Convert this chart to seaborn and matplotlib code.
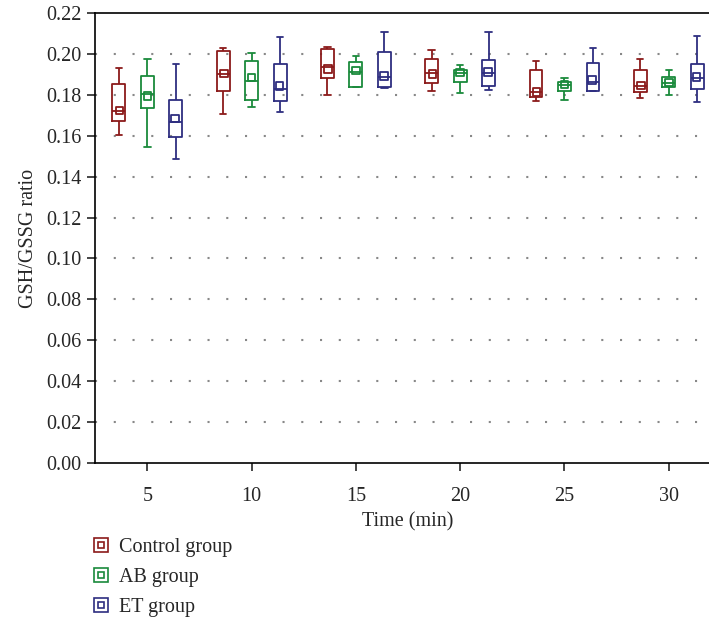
import numpy as np
import pandas as pd
import matplotlib
matplotlib.use('Agg')
import matplotlib.pyplot as plt
import seaborn as sns
from matplotlib.lines import Line2D
from matplotlib.legend_handler import HandlerTuple

# time points and groups
times = [5, 10, 15, 20, 25, 30]
groups = ['Control group', 'AB group', 'ET group']
colors = ['#8b1a1a', '#1a8a3c', '#2e2e80']

# five-number summaries: min, q1, median, q3, max
control_stats = [
    [0.1605, 0.1670, 0.1723, 0.1852, 0.1933],
    [0.1707, 0.1818, 0.1904, 0.2016, 0.2029],
    [0.1797, 0.1883, 0.1935, 0.2023, 0.2036],
    [0.1821, 0.1859, 0.1905, 0.1977, 0.2020],
    [0.1770, 0.1787, 0.1815, 0.1920, 0.1967],
    [0.1785, 0.1815, 0.1845, 0.1920, 0.1977],
]
ab_stats = [
    [0.1543, 0.1735, 0.1805, 0.1891, 0.1974],
    [0.1741, 0.1774, 0.1868, 0.1966, 0.2006],
    [0.1836, 0.1839, 0.1912, 0.1958, 0.1992],
    [0.1810, 0.1863, 0.1905, 0.1920, 0.1946],
    [0.1777, 0.1820, 0.1850, 0.1865, 0.1884],
    [0.1800, 0.1840, 0.1860, 0.1888, 0.1923],
]
et_stats = [
    [0.1488, 0.1592, 0.1668, 0.1777, 0.1953],
    [0.1714, 0.1771, 0.1826, 0.1953, 0.2084],
    [0.1834, 0.1839, 0.1885, 0.2011, 0.2107],
    [0.1823, 0.1844, 0.1905, 0.1971, 0.2109],
    [0.1820, 0.1820, 0.1865, 0.1955, 0.2031],
    [0.1765, 0.1828, 0.1880, 0.1953, 0.2087],
]
# means (small square markers)
control_mean = [0.1723, 0.1904, 0.1925, 0.1901, 0.1815, 0.1845]
ab_mean = [0.1794, 0.1884, 0.1919, 0.1909, 0.1850, 0.1860]
et_mean = [0.1685, 0.1842, 0.1893, 0.1912, 0.1873, 0.1888]

rows = []
for g, stats in zip(groups, [control_stats, ab_stats, et_stats]):
    for t, s in zip(times, stats):
        for v in s:
            rows.append({'time': t, 'group': g, 'value': v})
df = pd.DataFrame(rows)

mrows = []
for g, means in zip(groups, [control_mean, ab_mean, et_mean]):
    for t, m in zip(times, means):
        mrows.append({'time': t, 'group': g, 'value': m})
dfm = pd.DataFrame(mrows)

sns.set_style('ticks')
plt.rcParams['font.family'] = ['Liberation Serif', 'DejaVu Serif']

fig = plt.figure(figsize=(7.09, 6.23), dpi=100)
ax = fig.add_axes([95.2 / 709, 1 - 463 / 623, 625.7 / 709, 450 / 623])

pal = dict(zip(groups, colors))
sns.boxplot(data=df, x='time', y='value', hue='group', palette=pal,
            fill=False, whis=(0, 100), width=0.82, gap=0.55,
            linewidth=1.3, showfliers=False, legend=False, ax=ax)
sns.stripplot(data=dfm, x='time', y='value', hue='group', palette=pal,
              dodge=True, jitter=False, marker='s', size=5.5,
              linewidth=1.3, legend=False, ax=ax)
# make the mean squares hollow
for coll in ax.collections:
    fc = coll.get_facecolors()
    if len(fc):
        coll.set_edgecolors(fc)
        coll.set_facecolors('none')

ax.set_xlim(-0.5, 5.5)
ax.set_ylim(0, 0.22)
yt = np.arange(0, 0.221, 0.02)
ax.set_yticks(yt)
ax.set_yticklabels(['%.2f' % v for v in yt])
for v in yt[1:-1]:
    ax.axhline(v, color='#888888', linestyle=(0, (1, 8)), linewidth=1.5, zorder=0)

ax.set_xlabel('Time (min)', fontsize=14.5, labelpad=5)
ax.set_ylabel('GSH/GSSG ratio', fontsize=14.5, labelpad=6)
ax.tick_params(labelsize=14.5, direction='out', length=6, width=1.2, pad=4)
ax.tick_params(axis='x', pad=11)
for sp in ax.spines.values():
    sp.set_linewidth(1.2)
    sp.set_color('black')

handles = []
for c in colors:
    outer = Line2D([], [], marker='s', linestyle='none', markersize=10,
                   markerfacecolor='none', markeredgecolor=c, markeredgewidth=1.2)
    inner = Line2D([], [], marker='s', linestyle='none', markersize=4,
                   markerfacecolor='none', markeredgecolor=c, markeredgewidth=1.2)
    handles.append((outer, inner))
fig.legend(handles, groups, handler_map={tuple: HandlerTuple(ndivide=1, pad=0)},
           loc='upper left', bbox_to_anchor=(92 / 709, 1 - 538 / 623),
           frameon=False, fontsize=14.5, handlelength=0.9, handletextpad=0.45,
           labelspacing=0.55, borderaxespad=0, borderpad=0)

fig.savefig('out.png', dpi=100)
